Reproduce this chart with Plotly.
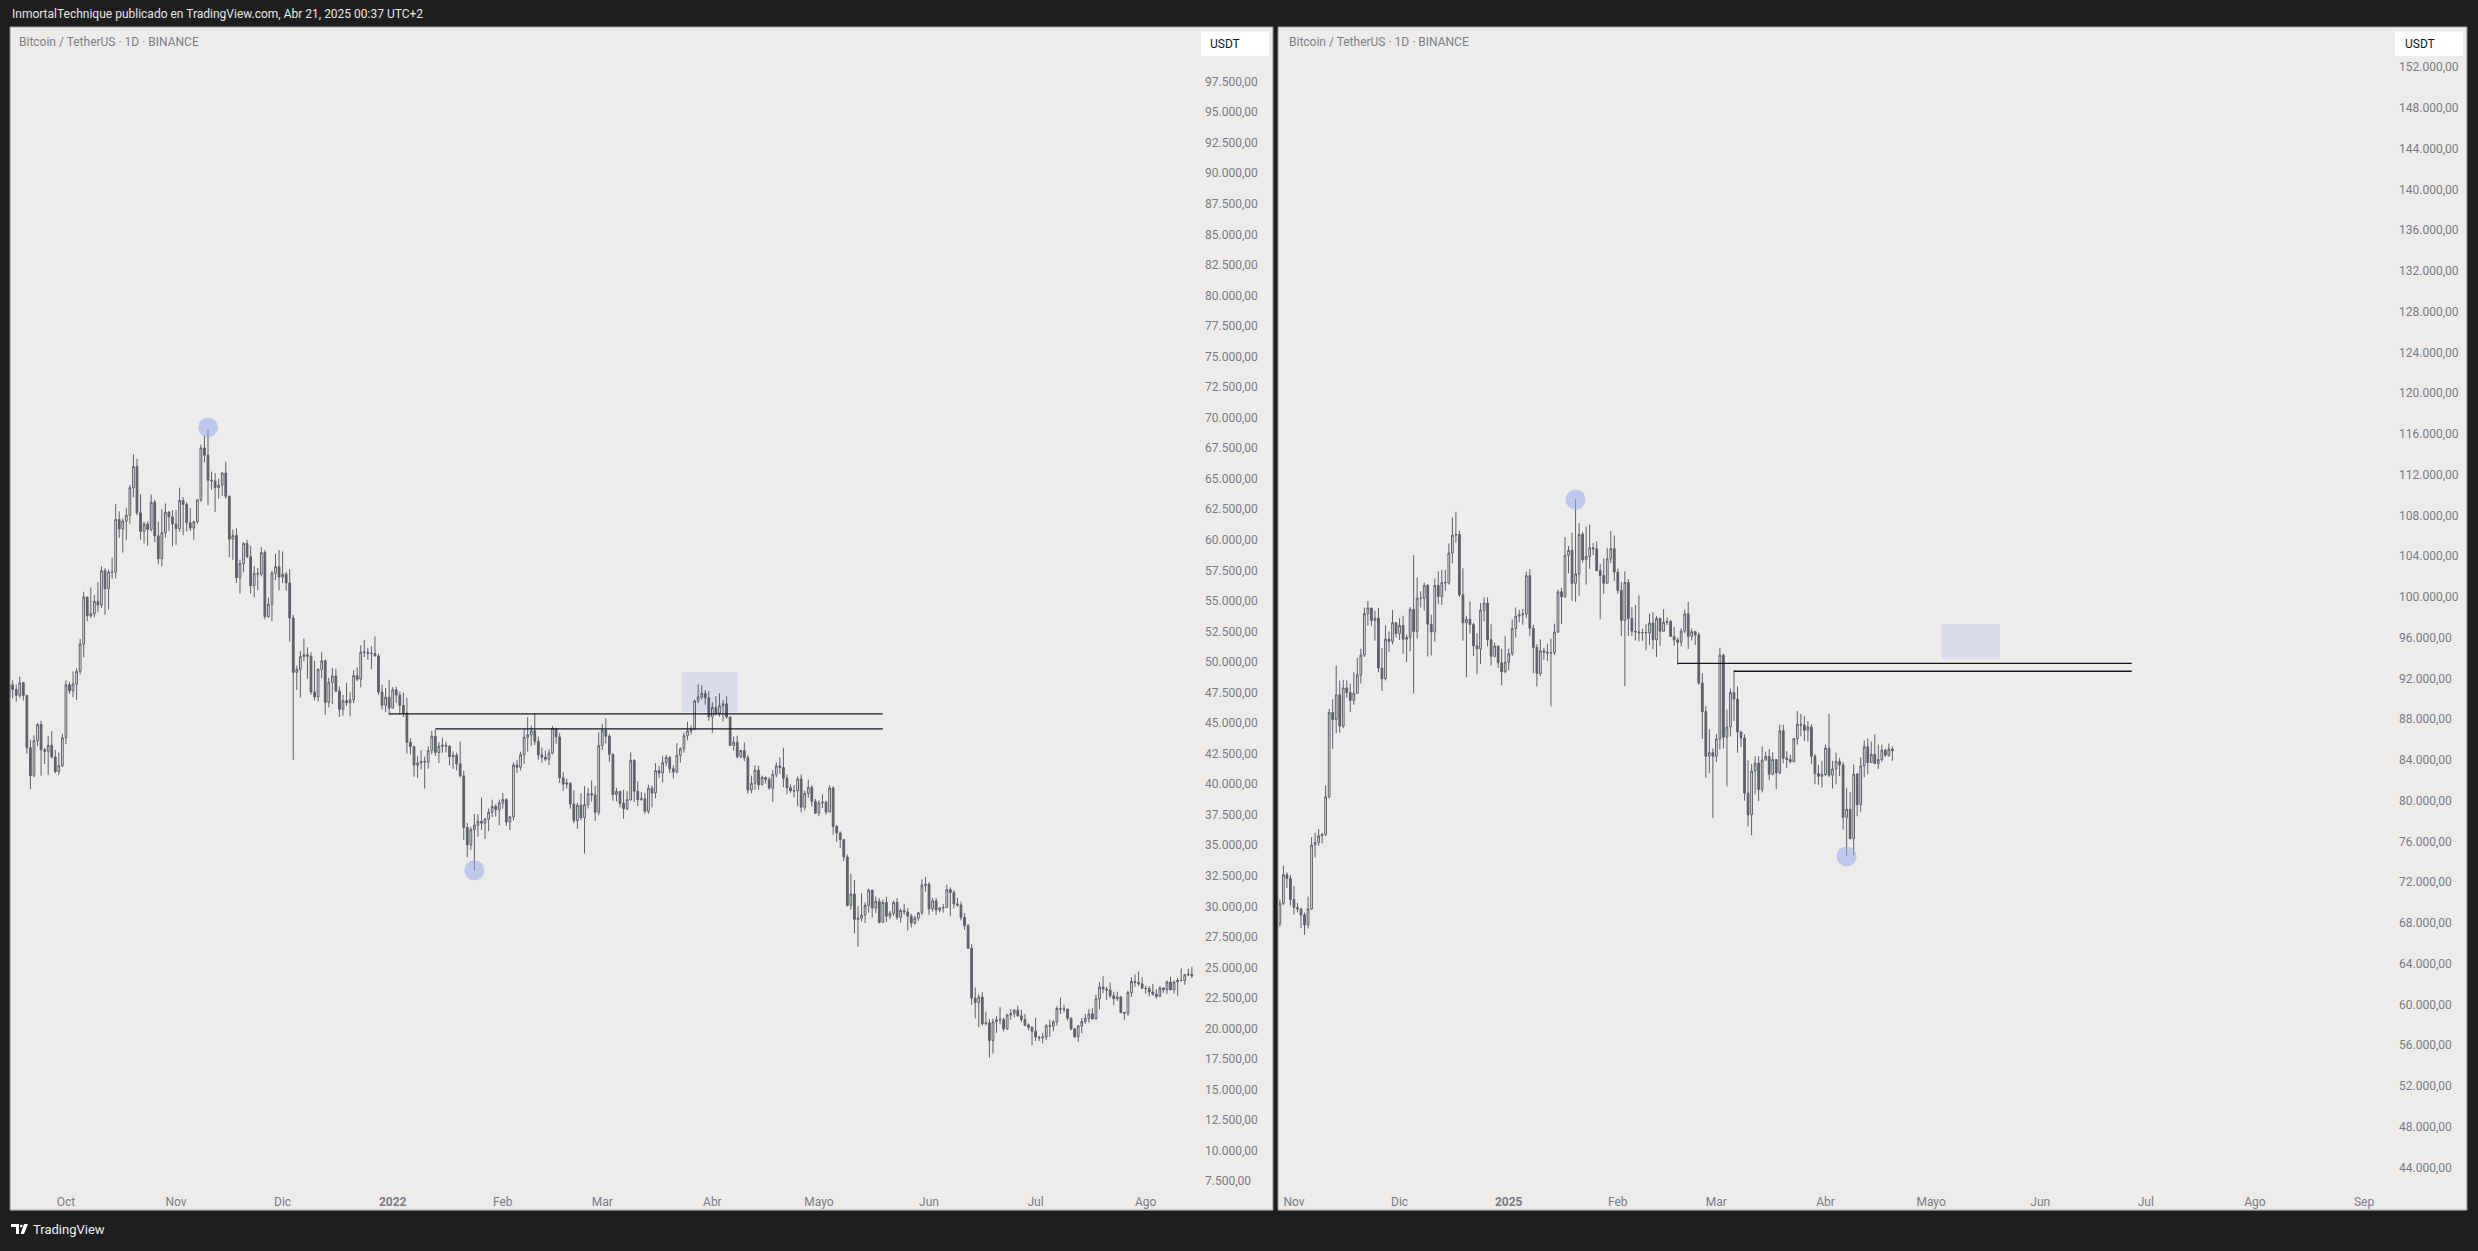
import plotly.graph_objects as go
import pandas as pd

# ---------------- DATA : BTCUSDT daily (close, high, low) ----------------
# Left panel : 2021-09-15 .. 2022-08-14
left_start = "2021-09-15"
left_first_open = 47100
L_2021_09 = [(48130, 48500, 46700), (47750, 48500, 47000), (47280, 48150, 46750), (48300, 48800, 47050),
             (47260, 48370, 46850), (42990, 47330, 42500), (40700, 43640, 39600), (43560, 44000, 40570),
             (44880, 45000, 43100), (42810, 45200, 40680), (42700, 42970, 41650), (43170, 43940, 40750),
             (42230, 44350, 42100), (41030, 42790, 40890), (41520, 42600, 40750), (43790, 44130, 41410)]
L_2021_10 = [(48140, 48500, 43280), (47640, 48360, 47400), (48200, 49230, 47100), (49230, 49500, 46900),
             (51470, 51890, 49000), (55320, 55750, 50380), (53790, 55330, 53350), (53950, 56100, 53600),
             (54960, 55490, 53660), (54660, 56560, 54090), (57470, 57840, 54420), (56000, 57680, 53880),
             (57370, 57580, 54300), (57350, 58530, 56820), (61670, 62930, 56850), (60880, 62330, 60150),
             (61530, 61730, 58960), (62010, 62600, 60000), (64280, 64490, 61320), (66000, 67000, 63480),
             (62210, 66640, 62000), (60690, 63720, 60000), (61290, 61490, 59700), (60850, 61500, 59510),
             (63080, 63710, 60670), (60330, 63290, 59820), (58450, 61500, 58000), (60590, 62500, 57820),
             (62270, 62980, 60170), (61880, 62350, 60720), (61300, 62420, 59460)]
L_2021_11 = [(60910, 62430, 59600), (63220, 64270, 60660), (62900, 63500, 60380), (61400, 63090, 60680),
             (60960, 62600, 60720), (61480, 61560, 60000), (63270, 63290, 61320), (67520, 67790, 63100),
             (66930, 68530, 66330), (64880, 69000, 62820), (64820, 65580, 64100), (64270, 65460, 62280),
             (64470, 65000, 63360), (65470, 65530, 63580), (63560, 66400, 63380), (60060, 63620, 58570),
             (60360, 60840, 58370), (56890, 60950, 56470), (58050, 58350, 55600), (59700, 59800, 57350),
             (58620, 60000, 58500), (56250, 59500, 55600), (57250, 57860, 55300), (57200, 57700, 55880),
             (58960, 59400, 57000), (53720, 59180, 53500), (54720, 55280, 53610), (57270, 57450, 53330),
             (57800, 58860, 56700), (56950, 59170, 55870)]
L_2021_12 = [(57180, 59050, 56450), (56480, 57370, 55840), (53600, 57600, 51680), (49150, 53860, 42000),
             (49400, 49700, 47700), (50440, 50900, 47100), (50590, 51930, 50050), (50470, 51200, 48620),
             (47550, 50800, 47320), (47140, 50100, 46850), (49390, 49480, 46750), (50100, 50800, 48650),
             (46700, 50200, 45670), (48340, 48700, 46290), (48860, 49500, 46550), (47630, 49450, 47510),
             (46130, 47990, 45500), (46830, 47300, 45600), (46680, 48300, 46400), (46910, 47540, 45560),
             (48890, 49330, 46630), (48590, 49570, 48420), (50820, 51380, 47920), (50800, 51810, 50400),
             (50710, 51160, 50180), (50700, 51280, 49410), (50500, 52090, 50450), (47540, 50680, 47310),
             (46460, 48140, 46100), (47120, 47880, 45900), (46220, 48550, 45680)]
L_2022_01 = [(47720, 47950, 46220), (47290, 47990, 46650), (46450, 47570, 45700), (45830, 47500, 45500),
             (43430, 47070, 42500), (43080, 43750, 42430), (41560, 43140, 40610), (41730, 42300, 40500),
             (41860, 42790, 41200), (41820, 42250, 39650), (42740, 43100, 41270), (43920, 44350, 42450),
             (42590, 44460, 42310), (43100, 43450, 41720), (43180, 43800, 42570), (43110, 43480, 42600),
             (42250, 43200, 41540), (42370, 42690, 41250), (41660, 42580, 41140), (40680, 43500, 40550),
             (36450, 41100, 35440), (35030, 36830, 34010), (36280, 36500, 34600), (36650, 37550, 32920),
             (36950, 37550, 35700), (36810, 38900, 36260), (37150, 37230, 35510), (37710, 38000, 36150),
             (38170, 38730, 37300), (37920, 38360, 37350), (38470, 38740, 36630)]
L_2022_02 = [(38740, 39270, 38000), (36900, 38850, 36590), (37330, 37400, 36250), (41570, 41770, 37030),
             (41380, 41950, 40940), (42410, 42650, 41120), (43840, 44500, 41650), (44040, 45490, 42660),
             (44370, 44800, 43120), (43510, 45820, 43200), (42390, 43900, 42000), (42210, 43000, 41750),
             (42050, 42750, 41890), (42540, 42880, 41570), (44570, 44770, 42440), (43870, 44560, 43310),
             (40520, 44190, 40100), (40000, 40990, 39450), (40090, 40450, 39640), (38370, 40140, 38000),
             (37020, 39500, 36810), (38280, 38460, 36350), (37260, 39250, 37050), (38330, 39840, 34320),
             (39220, 39700, 38010), (39120, 40300, 38570), (37700, 39850, 37000), (43160, 44250, 37450)]
L_2022_03 = [(44420, 44950, 42800), (43920, 45400, 43330), (42450, 44100, 41830), (39150, 42500, 38650),
             (39400, 39700, 38580), (38420, 39470, 38100), (37990, 39550, 37160), (38730, 39430, 37870),
             (41940, 42600, 38650), (39420, 42050, 38540), (38730, 40240, 38220), (38810, 39360, 38660),
             (37780, 39300, 37580), (39670, 39950, 37590), (39280, 39880, 38100), (41110, 41720, 38840),
             (40920, 41480, 40500), (41760, 42320, 40140), (42200, 42400, 41500), (41260, 42290, 40900),
             (41000, 41540, 40460), (42360, 43360, 40870), (42890, 43020, 41760), (43960, 44230, 42590),
             (44350, 45100, 43590), (44500, 44810, 44070), (46820, 46920, 44420), (47130, 48190, 46630),
             (47430, 48100, 46940), (47070, 47700, 46500), (45510, 47600, 45200)]
L_2022_04 = [(46280, 46720, 44200), (45810, 47210, 45620), (46410, 47440, 45520), (46580, 46890, 45120),
             (45500, 47200, 45350), (43170, 45510, 43120), (43440, 43900, 42730), (42250, 43970, 42100),
             (42750, 42800, 42120), (42160, 43420, 41870), (39530, 42410, 39200), (40070, 40700, 39250),
             (41150, 41560, 39550), (39940, 41500, 39550), (40550, 40710, 39990), (40380, 40620, 40050),
             (39680, 40590, 39540), (40800, 41140, 38540), (41490, 41760, 40570), (41360, 42200, 40850),
             (40480, 42980, 39750), (39710, 40800, 39170), (39470, 39980, 39290), (39450, 39930, 38930),
             (40430, 40620, 38200), (38110, 40800, 37700), (39240, 39470, 37860), (39740, 40370, 38880),
             (38600, 39920, 38180), (37630, 38800, 37580)]
L_2022_05 = [(38470, 38670, 37390), (38520, 39170, 38050), (37730, 38650, 37520), (39690, 39900, 37670),
             (36550, 39840, 35860), (36010, 36650, 35260), (35470, 36130, 34780), (34040, 35500, 33710),
             (30080, 34250, 30000), (31010, 32660, 29730), (28940, 32160, 27790), (29030, 30030, 26700),
             (29290, 31080, 28750), (30080, 30330, 28630), (31330, 31440, 29480), (29860, 31330, 29080),
             (30420, 30800, 29450), (28690, 30690, 28610), (30320, 30550, 28660), (29200, 30780, 28730),
             (29430, 29630, 28950), (30310, 30470, 29230), (29100, 30690, 28890), (29650, 29830, 28650),
             (29540, 30220, 29300), (29200, 29860, 28020), (28630, 29390, 28280), (29030, 29240, 28500),
             (29470, 29550, 28820), (31730, 32220, 29300), (31800, 32400, 31210)]
L_2022_06 = [(29800, 31980, 29300), (30450, 30700, 29580), (29700, 30690, 29300), (29860, 29950, 29500),
             (29910, 30180, 29490), (31370, 31770, 29880), (31130, 31550, 29220), (30200, 31340, 29840),
             (30110, 30700, 29960), (29090, 30400, 28850), (28420, 29440, 28100), (26570, 28550, 26560),
             (22490, 26900, 21930), (22140, 23360, 20820), (22580, 22800, 20110), (20400, 22980, 20230),
             (20470, 21370, 20250), (19020, 20800, 17620), (20550, 20830, 17960), (20720, 21000, 19640),
             (20730, 21750, 20350), (19990, 20900, 19770), (21110, 21200, 19890), (21240, 21580, 20700),
             (21490, 21610, 20910), (21040, 21880, 20960), (20740, 21530, 20520), (20280, 21200, 20180),
             (20100, 20420, 19850), (19780, 20180, 18630)]
L_2022_07 = [(19300, 20880, 18970), (19240, 19400, 18980), (19300, 19650, 18780), (20230, 20350, 19060),
             (20190, 20740, 19310), (20550, 20680, 19770), (21640, 21840, 20250), (21590, 22530, 21190),
             (21590, 21950, 21320), (20860, 21610, 20650), (19970, 20870, 19850), (19330, 20050, 19230),
             (20210, 20260, 18910), (20570, 20880, 19620), (20830, 21200, 20380), (21200, 21590, 20480),
             (20780, 21670, 20760), (22430, 22770, 20760), (23400, 23800, 21580), (23230, 24280, 22900),
             (23150, 23430, 22340), (22680, 23760, 22500), (22450, 23000, 21900), (22580, 23010, 22260),
             (21310, 22650, 21250), (21250, 21350, 20710), (22950, 23110, 21040), (23850, 24200, 22580),
             (23770, 24440, 23420), (23650, 24670, 23500), (23300, 24200, 23230)]
L_2022_08 = [(23270, 23510, 22850), (22990, 23470, 22650), (22820, 23650, 22680), (22630, 23230, 22430),
             (23310, 23480, 22590), (23180, 23360, 22930), (23810, 23920, 22840), (23160, 24250, 23150),
             (23810, 23940, 22860), (23960, 24140, 22660), (23930, 24920, 23860), (24400, 24460, 23580),
             (24440, 24890, 24290), (24300, 25050, 24140)]

# Right panel : 2024-10-27 .. 2025-04-20
right_start = "2024-10-27"
right_first_open = 67010
R_2024_10 = [(67940, 68350, 66820), (69910, 70270, 67620), (72720, 73620, 69730), (72340, 72960, 71440),
             (70290, 72700, 69690)]
R_2024_11 = [(69500, 71630, 68800), (69370, 69950, 69020), (68780, 69400, 67480), (67810, 69000, 66830),
             (69360, 70580, 67450), (75640, 76400, 69300), (75900, 76850, 74420), (76540, 77200, 75560),
             (76680, 76800, 75800), (80370, 81500, 76500), (88650, 89000, 80220), (87950, 89940, 85070),
             (90380, 93260, 86620), (87320, 91770, 86670), (91060, 91860, 87100), (90600, 91800, 90100),
             (89840, 91500, 88700), (90540, 92600, 89400), (92340, 94000, 90900), (94280, 94900, 91500),
             (98350, 98950, 94100), (98900, 99590, 97180), (97690, 98850, 97130), (97900, 98650, 95700),
             (93010, 98930, 92600), (91960, 94970, 90770), (95860, 97200, 91800), (95640, 96600, 94600),
             (97460, 98700, 95350), (96410, 97460, 96000)]
R_2024_12 = [(97190, 97900, 95770), (95840, 98150, 94400), (96000, 96300, 93600), (98770, 99000, 94650),
             (96600, 104090, 90500), (99870, 101900, 95900), (99860, 100550, 98950), (101120, 101400, 98650),
             (97320, 101260, 94150), (96560, 98250, 94250), (101110, 101800, 95600), (100040, 102500, 99300),
             (101400, 102650, 99200), (101370, 102650, 100600), (104300, 105250, 101200), (106060, 107800, 103300),
             (106120, 108350, 105320), (100200, 106500, 100000), (97460, 102800, 95700), (97800, 98150, 92100),
             (97280, 99540, 96400), (95190, 97450, 94200), (94880, 96420, 92400), (98690, 99400, 93400),
             (99390, 99960, 97600), (95800, 99950, 95140), (94160, 97300, 93250), (95160, 95500, 94050),
             (93530, 95200, 93000), (92640, 94900, 91320), (93580, 96150, 92500)]
R_2025_01 = [(94420, 94930, 92810), (96890, 97780, 94200), (98110, 98960, 96000), (98240, 98730, 97500),
             (98310, 98810, 97270), (102080, 102480, 97900), (96920, 102720, 96130), (95040, 97260, 92500),
             (92480, 95350, 91200), (94700, 95840, 92200), (94570, 95000, 93800), (94490, 95400, 93700),
             (94500, 95900, 89250), (96530, 97370, 94300), (100500, 100700, 96460), (99990, 100870, 97330),
             (104080, 105870, 99950), (104560, 104990, 102300), (101330, 106300, 99600), (102260, 109590, 99500),
             (106140, 107240, 100100), (103650, 106380, 103350), (103960, 106880, 101200), (104820, 107100, 102750),
             (104710, 105290, 104100), (102580, 105450, 102500), (102090, 103230, 97800), (101330, 103780, 100280),
             (103730, 104800, 101330), (104730, 106460, 103290), (102430, 106020, 101550)]
R_2025_02 = [(100640, 102780, 100280), (97690, 101460, 96150), (101400, 102500, 91230), (97870, 101750, 96150),
             (96620, 99000, 96150), (96550, 99200, 95700), (96470, 100140, 95620), (96500, 96880, 95690),
             (96450, 97320, 94750), (97430, 98350, 95260), (95780, 98500, 94860), (97870, 98120, 94090),
             (96620, 98000, 95200), (97500, 98800, 96600), (97570, 97970, 97230), (96120, 97730, 96060),
             (95770, 97040, 95200), (95540, 96000, 93340), (96630, 96900, 95130), (98330, 98750, 96410),
             (96120, 99500, 94870), (96580, 96890, 95700), (96270, 96670, 95270), (91550, 96500, 91350),
             (88740, 92500, 86050), (84350, 89290, 82250), (84700, 87000, 82700), (84350, 85120, 78260)]
R_2025_03 = [(86060, 86550, 83780), (94270, 95000, 85040), (86220, 94400, 85100), (87220, 88950, 81400),
             (90600, 91000, 86300), (89960, 92800, 87800), (86740, 91200, 84700), (86150, 86850, 85250),
             (80730, 86500, 80000), (78600, 83950, 77460), (82900, 83600, 76600), (83680, 84360, 80600),
             (81100, 84350, 79940), (83970, 85300, 80800), (84340, 84800, 83950), (82580, 85050, 82000),
             (84030, 84750, 82460), (82720, 84050, 81150), (86850, 87450, 82600), (84170, 87450, 83650),
             (84040, 84850, 83180), (83830, 84500, 83650), (86080, 86100, 83770), (87500, 88800, 85500),
             (87400, 88500, 86300), (86900, 88300, 85850), (87220, 87800, 85800), (84350, 87500, 83600),
             (82650, 84600, 81600), (82380, 83500, 81550), (82550, 83900, 81280)]
R_2025_04 = [(85160, 85500, 82400), (82490, 88500, 82300), (83100, 83900, 81200), (83850, 84700, 81600),
             (83500, 84200, 82400), (78370, 83800, 77150), (79140, 81250, 74510), (76270, 80850, 76200),
             (82600, 83550, 74620), (79600, 82700, 78450), (83400, 84250, 78900), (85290, 85900, 82300),
             (83740, 86100, 82600), (84540, 85800, 83700), (83630, 86500, 83600), (84030, 85500, 83100),
             (84950, 85500, 83800), (84450, 85100, 84300), (85060, 85600, 84300), (84900, 85300, 83900)]

# Tick labels
left_tickvals = ["2021-10-01", "2021-11-01", "2021-12-01", "2022-01-01", "2022-02-01", "2022-03-01",
                 "2022-04-01", "2022-05-01", "2022-06-01", "2022-07-01", "2022-08-01"]
left_ticktext = ["Oct", "Nov", "Dic", "<b>2022</b>", "Feb", "Mar", "Abr", "Mayo", "Jun", "Jul", "Ago"]
right_tickvals = ["2024-11-01", "2024-12-01", "2025-01-01", "2025-02-01", "2025-03-01", "2025-04-01",
                  "2025-05-01", "2025-06-01", "2025-07-01", "2025-08-01", "2025-09-01"]
right_ticktext = ["Nov", "Dic", "<b>2025</b>", "Feb", "Mar", "Abr", "Mayo", "Jun", "Jul", "Ago", "Sep"]
left_price_ticks = list(range(7500, 97501, 2500))
right_price_ticks = list(range(44000, 152001, 4000))

# Annotation drawings (price levels / dates)
left_levels = [("2021-12-31", "2022-05-19", 45750), ("2022-01-13", "2022-05-19", 44530)]
left_zone = ("2022-03-23 11:00", "2022-04-08 05:00", 45910, 49170)
left_marks = [("2021-11-10", 69200), ("2022-01-24", 32950)]
right_levels = [("2025-02-18", "2025-06-27", 93470), ("2025-03-06", "2025-06-27", 92690)]
right_zone = ("2025-05-03 20:00", "2025-05-20 14:00", 93890, 97310)
right_marks = [("2025-01-20", 109550), ("2025-04-07", 74520)]

# ---------------- BUILD ----------------
W, H = 2478, 1251
BG_DARK = "#1e1e1e"
PANEL = "#edecea"
CANDLE = "#5d606b"
TXT = "#787b86"
FONT = "Roboto, Liberation Sans, sans-serif"


def px(x):
    return x / W


def py(y):
    return 1 - y / H


def build(months, start, first_open):
    rows = [r for m in months for r in m]
    close = [r[0] for r in rows]
    high = [r[1] for r in rows]
    low = [r[2] for r in rows]
    opn = [first_open] + close[:-1]
    high = [max(h, o, c) for h, o, c in zip(high, opn, close)]
    low = [min(l, o, c) for l, o, c in zip(low, opn, close)]
    dates = pd.date_range(start, periods=len(rows), freq="D")
    return dates, opn, high, low, close


lx, lo, lh, ll, lc = build([L_2021_09, L_2021_10, L_2021_11, L_2021_12, L_2022_01, L_2022_02, L_2022_03,
                            L_2022_04, L_2022_05, L_2022_06, L_2022_07, L_2022_08], left_start, left_first_open)
rx, ro, rh, rl, rc = build([R_2024_10, R_2024_11, R_2024_12, R_2025_01, R_2025_02, R_2025_03, R_2025_04],
                           right_start, right_first_open)

fig = go.Figure()


def candles(x, o, h, l, c, xa, ya):
    return go.Candlestick(
        x=x, open=o, high=h, low=l, close=c, xaxis=xa, yaxis=ya,
        increasing=dict(line=dict(color=CANDLE, width=1), fillcolor=PANEL),
        decreasing=dict(line=dict(color=CANDLE, width=1), fillcolor=CANDLE),
        whiskerwidth=0, showlegend=False, hoverinfo="skip")


def marks(pts, xa, ya):
    return go.Scatter(x=[p[0] for p in pts], y=[p[1] for p in pts], mode="markers", xaxis=xa, yaxis=ya,
                      marker=dict(size=20, color="rgba(150,172,235,0.55)", line=dict(width=0)),
                      showlegend=False, hoverinfo="skip")


fig.add_trace(marks(left_marks, "x", "y"))
fig.add_trace(candles(lx, lo, lh, ll, lc, "x", "y"))
fig.add_trace(marks(right_marks, "x2", "y2"))
fig.add_trace(candles(rx, ro, rh, rl, rc, "x2", "y2"))

ydom = [py(1188), py(27)]
axis_common = dict(showgrid=False, zeroline=False, showline=False, ticks="", fixedrange=True,
                   tickfont=dict(family=FONT, size=12, color=TXT))

fig.update_layout(
    width=W, height=H, margin=dict(l=0, r=0, t=0, b=0),
    paper_bgcolor=BG_DARK, plot_bgcolor="rgba(0,0,0,0)",
    separators=",.", showlegend=False,
    xaxis=dict(domain=[px(10), px(1200)], type="date", range=["2021-09-15 06:00", "2022-08-16 07:00"],
               tickvals=left_tickvals, ticktext=left_ticktext, anchor="y",
               rangeslider=dict(visible=False), ticklabelstandoff=10, **axis_common),
    yaxis=dict(domain=ydom, range=[7337, 101982], side="right", anchor="x", tickmode="array",
               tickvals=left_price_ticks, tickformat=",.2f", ticklabelstandoff=4, **axis_common),
    xaxis2=dict(domain=[px(1279), px(2394)], type="date", range=["2024-10-27 18:00", "2025-09-09 12:00"],
                tickvals=right_tickvals, ticktext=right_ticktext, anchor="y2",
                rangeslider=dict(visible=False), ticklabelstandoff=10, **axis_common),
    yaxis2=dict(domain=ydom, range=[42435, 155950], side="right", anchor="x2", tickmode="array",
                tickvals=right_price_ticks, tickformat=",.2f", ticklabelstandoff=4, **axis_common),
)

shapes = []
# panel backgrounds
for x0, x1 in [(10, 1273), (1278, 2467)]:
    shapes.append(dict(type="rect", xref="paper", yref="paper", x0=px(x0), x1=px(x1), y0=py(1215), y1=py(27),
                       fillcolor=PANEL, line=dict(color="#8c8c8c", width=1), layer="below"))
# USDT boxes
for x0, x1 in [(1201, 1269), (2395, 2463)]:
    shapes.append(dict(type="rect", xref="paper", yref="paper", x0=px(x0), x1=px(x1), y0=py(56), y1=py(32),
                       fillcolor="#ffffff", line=dict(width=0), layer="above"))
# zones
for (x0, x1, y0, y1), xr, yr in [(left_zone, "x", "y"), (right_zone, "x2", "y2")]:
    shapes.append(dict(type="rect", xref=xr, yref=yr, x0=x0, x1=x1, y0=y0, y1=y1,
                       fillcolor="#d9dced", line=dict(width=0), layer="below"))
# levels
for lv, xr, yr in [(left_levels, "x", "y"), (right_levels, "x2", "y2")]:
    for x0, x1, yv in lv:
        shapes.append(dict(type="line", xref=xr, yref=yr, x0=x0, x1=x1, y0=yv, y1=yv,
                           line=dict(color="#131722", width=1.4), layer="above"))
# TradingView logo glyph
shapes.append(dict(type="path", xref="paper", yref="paper",
                   path="M %f %f L %f %f L %f %f L %f %f L %f %f L %f %f Z" % (
                       px(11), py(1229), px(19), py(1229), px(19), py(1239), px(16), py(1239),
                       px(16), py(1232), px(11), py(1232)),
                   fillcolor="#ffffff", line=dict(width=0)))
shapes.append(dict(type="circle", xref="paper", yref="paper", x0=px(20), x1=px(22.6), y0=py(1232.4),
                   y1=py(1229.6), fillcolor="#ffffff", line=dict(width=0)))
shapes.append(dict(type="path", xref="paper", yref="paper",
                   path="M %f %f L %f %f L %f %f L %f %f Z" % (px(24), py(1229), px(28), py(1229),
                                                               px(24), py(1239), px(20.5), py(1239)),
                   fillcolor="#ffffff", line=dict(width=0)))
fig.update_layout(shapes=shapes)

ann = []
ann.append(dict(text="InmortalTechnique publicado en TradingView.com, Abr 21, 2025 00:37 UTC+2",
                x=px(10), y=py(14), xref="paper", yref="paper", xanchor="left", yanchor="middle",
                showarrow=False, font=dict(family=FONT, size=12, color="#e6e6e6")))
for x in (17, 1287):
    ann.append(dict(text="Bitcoin / TetherUS · 1D · BINANCE", x=px(x), y=py(42), xref="paper", yref="paper",
                    xanchor="left", yanchor="middle", showarrow=False,
                    font=dict(family=FONT, size=12, color="#7b7e87")))
for x in (1208, 2403):
    ann.append(dict(text="USDT", x=px(x), y=py(44), xref="paper", yref="paper", xanchor="left",
                    yanchor="middle", showarrow=False, font=dict(family=FONT, size=12, color="#131722")))
ann.append(dict(text="TradingView", x=px(31), y=py(1234), xref="paper", yref="paper", xanchor="left",
                yanchor="middle", showarrow=False, font=dict(family=FONT, size=13, color="#f0f0f0")))
fig.update_layout(annotations=ann)

post = ("document.documentElement.style.margin='0';document.body.style.margin='0';"
        "document.documentElement.style.overflow='hidden';document.body.style.overflow='hidden';"
        "var g=document.getElementById('{plot_id}');g.style.position='fixed';g.style.left='0px';g.style.top='0px';")
fig.write_html("out.html", config={"displayModeBar": False}, post_script=post)
